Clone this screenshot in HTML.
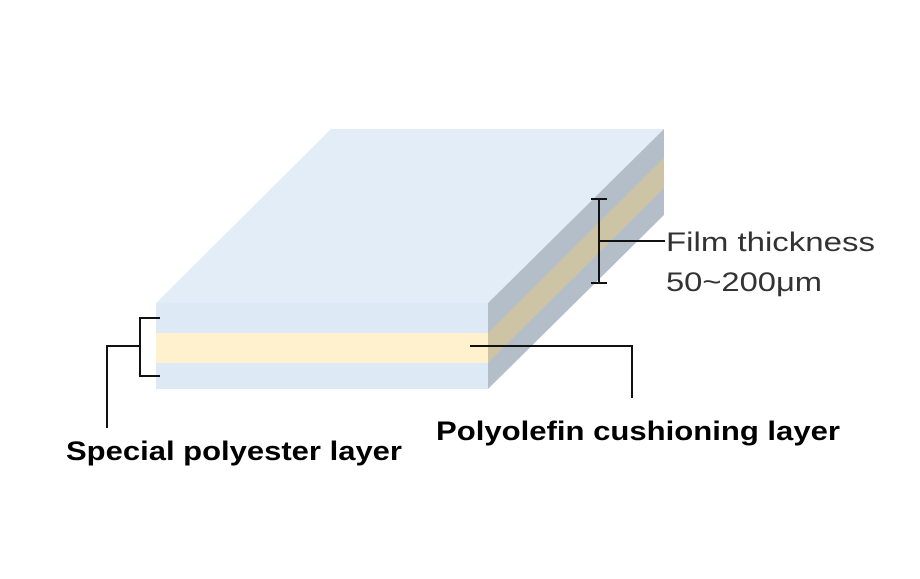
<!DOCTYPE html>
<html><head><style>body{margin:0;background:#fff}</style></head><body>
<svg width="920" height="574" viewBox="0 0 920 574" xmlns="http://www.w3.org/2000/svg">
<rect width="920" height="574" fill="#fff"/>
<polygon points="331,129 664,129 488,303 156,303" fill="#e2edf7"/>
<polygon points="488,303 664,129 664,215 488,389" fill="#b3bec8"/>
<polygon points="488,333 664,158 664,188 488,363" fill="#cdc3a5"/>
<rect x="156" y="303" width="332" height="30" fill="#dde9f5"/>
<rect x="156" y="333" width="332" height="30" fill="#fff1cd"/>
<rect x="156" y="363" width="332" height="26" fill="#dde9f5"/>
<g stroke="#111" stroke-width="2" fill="none">
<path d="M591,199H607M599,199V283M591,283H607M599,241H665"/>
<path d="M160,318H140V376H160M140,346H107V428"/>
<path d="M470,346H632V398"/>
</g>
<g font-family="Liberation Sans, sans-serif">
<text x="666" y="251" font-size="27" fill="#333" textLength="209" lengthAdjust="spacingAndGlyphs">Film thickness</text>
<text x="666" y="291" font-size="27" fill="#333" textLength="156" lengthAdjust="spacingAndGlyphs">50~200μm</text>
<text x="66" y="460" font-size="27" font-weight="bold" fill="#000" textLength="336" lengthAdjust="spacingAndGlyphs">Special polyester layer</text>
<text x="436" y="440" font-size="27" font-weight="bold" fill="#000" textLength="404" lengthAdjust="spacingAndGlyphs">Polyolefin cushioning layer</text>
</g>
</svg>
</body></html>
